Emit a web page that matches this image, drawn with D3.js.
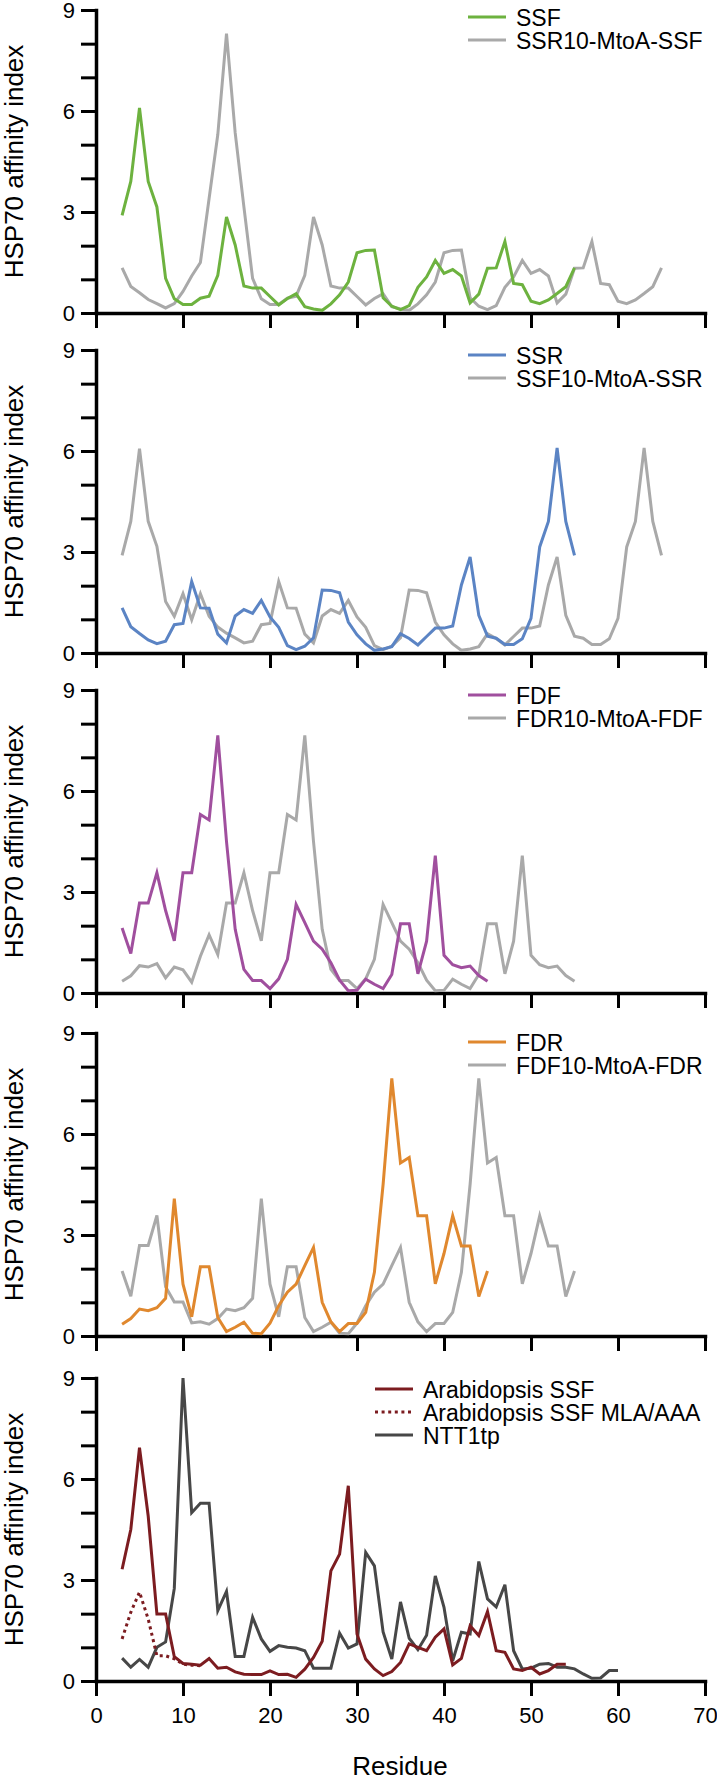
<!DOCTYPE html>
<html><head><meta charset="utf-8">
<script src="https://cdn.jsdelivr.net/npm/d3@7"></script>
<style>
body{margin:0;background:#fff}
svg{display:block}
text{font-family:"Liberation Sans",Arial,Helvetica,sans-serif;fill:#000}
</style>
</head><body>
<svg id="chart" width="717" height="1779"></svg>
<script>
// ---------- data (first residue of every series = 3) ----------
const firstResidue = 3;
const xTickValues = [0, 10, 20, 30, 40, 50, 60, 70];
const yTickValues = [0, 1, 2, 3, 4, 5, 6, 7, 8, 9];
const yLabelValues = [0, 3, 6, 9];

const ssf = [2.9,3.91,6.09,3.91,3.15,1.03,0.42,0.25,0.25,0.44,0.5,1.12,2.85,2.02,0.8,0.74,0.74,0.49,0.24,0.43,0.57,0.19,0.12,0.08,0.27,0.54,0.92,1.79,1.86,1.87,0.45,0.2,0.1,0.22,0.76,1.07,1.56,1.18,1.29,1.1,0.3,0.56,1.33,1.34,2.12,0.88,0.84,0.35,0.28,0.39,0.58,0.78,1.34];
const ssr10MtoASsf = [1.34,0.79,0.6,0.4,0.28,0.15,0.28,0.64,1.1,1.5,3.4,5.3,8.3,5.35,3.15,1.03,0.42,0.25,0.25,0.44,0.5,1.12,2.85,2.02,0.8,0.74,0.74,0.49,0.24,0.43,0.57,0.19,0.12,0.08,0.27,0.54,0.92,1.79,1.86,1.87,0.45,0.2,0.1,0.22,0.76,1.07,1.56,1.18,1.29,1.1,0.3,0.56,1.33,1.34,2.12,0.88,0.84,0.35,0.28,0.39,0.58,0.78,1.34];

const ssr = [1.34,0.78,0.58,0.39,0.28,0.35,0.84,0.88,2.12,1.34,1.33,0.56,0.3,1.1,1.29,1.18,1.56,1.07,0.76,0.22,0.1,0.2,0.45,1.87,1.86,1.79,0.92,0.54,0.27,0.08,0.12,0.19,0.57,0.43,0.24,0.49,0.74,0.74,0.8,2.02,2.85,1.12,0.5,0.44,0.25,0.25,0.42,1.03,3.15,3.91,6.09,3.91,2.9];
const ssf10MtoASsr = [2.9,3.91,6.07,3.91,3.17,1.53,1.09,1.76,0.99,1.76,1.09,0.77,0.59,0.45,0.3,0.35,0.84,0.88,2.12,1.34,1.33,0.56,0.3,1.1,1.29,1.18,1.56,1.07,0.76,0.22,0.1,0.2,0.45,1.87,1.86,1.79,0.92,0.54,0.27,0.08,0.12,0.19,0.57,0.43,0.24,0.49,0.74,0.74,0.8,2.02,2.85,1.12,0.5,0.44,0.25,0.25,0.42,1.03,3.15,3.91,6.09,3.91,2.9];

const fdf = [1.93,1.17,2.67,2.67,3.57,2.45,1.55,3.57,3.57,5.3,5.14,7.65,4.5,1.89,0.7,0.37,0.37,0.13,0.42,1.0,2.63,2.09,1.54,1.3,0.9,0.38,0.07,0.08,0.41,0.26,0.13,0.55,2.06,2.06,0.57,1.54,4.08,1.12,0.84,0.75,0.8,0.52,0.35];
const fdr10MtoAFdf = [0.35,0.51,0.81,0.77,0.87,0.45,0.77,0.69,0.32,1.09,1.73,1.14,2.67,2.67,3.57,2.45,1.55,3.57,3.57,5.3,5.14,7.65,4.5,1.89,0.7,0.37,0.37,0.13,0.42,1.0,2.63,2.09,1.54,1.3,0.9,0.38,0.07,0.08,0.41,0.26,0.13,0.55,2.06,2.06,0.57,1.54,4.08,1.12,0.84,0.75,0.8,0.52,0.35];

const fdr = [0.35,0.52,0.8,0.75,0.84,1.12,4.08,1.54,0.57,2.06,2.06,0.55,0.13,0.26,0.41,0.08,0.07,0.38,0.9,1.3,1.54,2.09,2.63,1.0,0.42,0.13,0.37,0.37,0.7,1.89,4.5,7.65,5.14,5.3,3.57,3.57,1.55,2.45,3.57,2.67,2.67,1.17,1.93];
const fdf10MtoAFdr = [1.93,1.18,2.69,2.69,3.58,1.46,1.01,1.01,0.39,0.42,0.35,0.52,0.8,0.75,0.84,1.12,4.08,1.54,0.57,2.06,2.06,0.55,0.13,0.26,0.41,0.08,0.07,0.38,0.9,1.3,1.54,2.09,2.63,1.0,0.42,0.13,0.37,0.37,0.7,1.89,4.5,7.65,5.14,5.3,3.57,3.57,1.55,2.45,3.57,2.67,2.67,1.17,1.93];

const arabidopsisSsf = [3.32,4.5,6.93,4.9,1.99,1.99,0.72,0.52,0.5,0.47,0.67,0.38,0.41,0.27,0.2,0.19,0.19,0.3,0.19,0.2,0.11,0.35,0.7,1.18,3.27,3.77,5.8,1.4,0.65,0.36,0.16,0.28,0.55,1.1,1.0,0.9,1.3,1.55,0.48,0.67,1.64,1.35,2.06,0.9,0.85,0.36,0.31,0.41,0.21,0.31,0.5,0.5];
const arabidopsisSsfMLA = [1.25,2.04,2.64,1.84,0.75,0.75,0.66,0.5,0.47,0.45];
const ntt1tp = [0.68,0.41,0.64,0.41,1.0,1.16,2.75,9.0,5.0,5.28,5.28,2.09,2.66,0.73,0.73,1.89,1.25,0.88,1.05,1.0,0.98,0.9,0.38,0.38,0.38,1.42,0.98,1.1,3.82,3.42,1.46,0.65,2.35,1.27,0.93,1.36,3.12,2.19,0.6,1.45,1.4,3.55,2.44,2.2,2.86,0.9,0.36,0.38,0.5,0.52,0.41,0.41,0.36,0.21,0.08,0.09,0.31,0.31];

// ---------- styling / layout ----------
const GRAY = "#a9a9a9", GREEN = "#6db23f", BLUE = "#5b84c4", PURPLE = "#a04f9e",
      ORANGE = "#e0882e", DARKRED = "#7c1c20", DARKGRAY = "#474747";

const panels = [
  { top: 10, legendX: 468, legendY: [17, 40],
    series: [
      { name: "SSF", values: ssf, color: GREEN },
      { name: "SSR10-MtoA-SSF", values: ssr10MtoASsf, color: GRAY }
    ], drawOrder: [1, 0] },
  { top: 350, legendX: 468, legendY: [355, 378],
    series: [
      { name: "SSR", values: ssr, color: BLUE },
      { name: "SSF10-MtoA-SSR", values: ssf10MtoASsr, color: GRAY }
    ], drawOrder: [1, 0] },
  { top: 690, legendX: 468, legendY: [695, 718],
    series: [
      { name: "FDF", values: fdf, color: PURPLE },
      { name: "FDR10-MtoA-FDF", values: fdr10MtoAFdf, color: GRAY }
    ], drawOrder: [1, 0] },
  { top: 1033, legendX: 468, legendY: [1042, 1065],
    series: [
      { name: "FDR", values: fdr, color: ORANGE },
      { name: "FDF10-MtoA-FDR", values: fdf10MtoAFdr, color: GRAY }
    ], drawOrder: [1, 0] },
  { top: 1378, legendX: 375, legendY: [1389, 1412, 1435],
    series: [
      { name: "Arabidopsis SSF", values: arabidopsisSsf, color: DARKRED },
      { name: "Arabidopsis SSF MLA/AAA", values: arabidopsisSsfMLA, color: DARKRED, dash: "3,3.6" },
      { name: "NTT1tp", values: ntt1tp, color: DARKGRAY }
    ], drawOrder: [2, 0, 1] }
];

const PANEL_H = 303;
const svg = d3.select("#chart");
const x = d3.scaleLinear().domain([0, 70]).range([96, 705]);

panels.forEach((p, pi) => {
  const last = pi === panels.length - 1;
  const y = d3.scaleLinear().domain([0, 9]).range([p.top + PANEL_H, p.top]);
  const g = svg.append("g");

  // x axis
  const xa = g.append("g")
    .attr("transform", `translate(0,${y(0)})`)
    .call(d3.axisBottom(x).tickValues(xTickValues).tickSize(15).tickSizeOuter(0)
      .tickPadding(11).tickFormat(d3.format("d")));
  if (!last) xa.selectAll(".tick text").remove();
  // y axis
  const ya = g.append("g")
    .attr("transform", `translate(${x(0)},0)`)
    .call(d3.axisLeft(y).tickValues(yTickValues).tickSize(15).tickSizeOuter(0)
      .tickPadding(6).tickFormat(d3.format("d")));
  ya.selectAll(".tick text").filter(d => !yLabelValues.includes(d)).remove();
  [xa, ya].forEach(a => {
    a.select(".domain").attr("stroke", "#000").attr("stroke-width", 3.5).attr("stroke-linecap", "square");
    a.selectAll(".tick line").attr("stroke", "#000").attr("stroke-width", 3);
    a.selectAll(".tick text").attr("font-size", 22).attr("fill", "#000")
      .style("font-family", '"Liberation Sans",Arial,Helvetica,sans-serif');
  });

  // y title
  g.append("text")
    .attr("transform", `translate(23,${p.top + PANEL_H / 2}) rotate(-90)`)
    .attr("text-anchor", "middle").attr("font-size", 26)
    .text("HSP70 affinity index");

  // series
  const line = d3.line().x((d, i) => x(firstResidue + i)).y(d => y(d));
  p.drawOrder.forEach(si => {
    const s = p.series[si];
    g.append("path").datum(s.values)
      .attr("d", line).attr("fill", "none")
      .attr("stroke", s.color).attr("stroke-width", 3)
      .attr("stroke-linejoin", "miter")
      .attr("stroke-dasharray", s.dash || null);
  });

  // legend
  p.series.forEach((s, i) => {
    const ly = p.legendY[i];
    g.append("line")
      .attr("x1", p.legendX).attr("x2", p.legendX + 38)
      .attr("y1", ly).attr("y2", ly)
      .attr("stroke", s.color).attr("stroke-width", 3)
      .attr("stroke-dasharray", s.dash || null);
    g.append("text")
      .attr("x", p.legendX + 48).attr("y", ly + 9)
      .attr("font-size", 23).text(s.name);
  });

  if (last) {
    g.append("text").attr("x", 400).attr("y", 1775)
      .attr("text-anchor", "middle").attr("font-size", 26).text("Residue");
  }
});
</script>
</body></html>
